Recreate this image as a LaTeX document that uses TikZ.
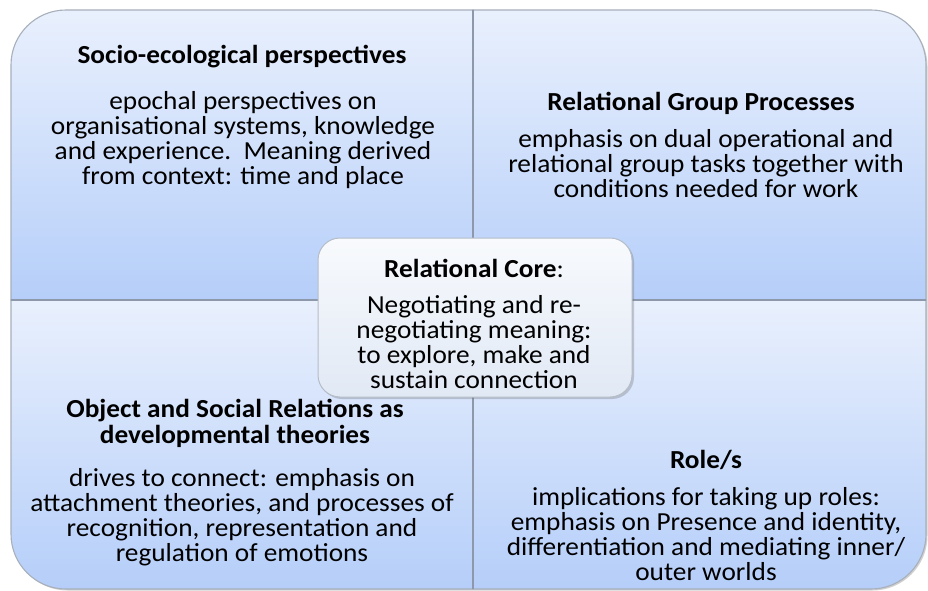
\documentclass[tikz,border=0pt]{standalone}
\usepackage{fontspec}
\setmainfont{Carlito}
\usetikzlibrary{shadows}
\definecolor{qtop}{HTML}{E9F0FD}
\definecolor{qbot}{HTML}{B5CEF9}
\definecolor{qline}{HTML}{8D99AA}
\definecolor{qouter}{HTML}{A8B0BB}
\definecolor{ctop}{HTML}{F8FAFD}
\definecolor{cbot}{HTML}{E1E9F5}
\definecolor{cline}{HTML}{B5BDC8}
\tikzset{
  quad/.style={draw=qouter, line width=1.1pt, top color=qtop, bottom color=qbot,
    drop shadow={shadow xshift=1.5pt, shadow yshift=-1.5pt, opacity=0.3, fill=black!60}},
  divider/.style={draw=qline, line width=1.8pt},
  txt/.style={align=center, inner sep=0pt, xscale=1.05, transform shape,
    font=\fontsize{26}{25}\selectfont, text=black},
  ttl/.style={txt, font=\fontsize{26}{26}\selectfont\bfseries},
}
\begin{document}
\begin{tikzpicture}[x=1pt,y=-1pt]
\useasboundingbox (0,0) rectangle (928,591);
\fill[white] (0,0) rectangle (928,591);
% quadrants
\path[quad] (11,300) -- (11,65) arc[start angle=180,end angle=270,radius=55] -- (473,10) -- (473,300) -- cycle;
\path[quad] (473,10) -- (871,10) arc[start angle=270,end angle=360,radius=55] -- (926,300) -- (473,300) -- cycle;
\path[quad] (11,300) -- (473,300) -- (473,589) -- (66,589) arc[start angle=90,end angle=180,radius=55] -- cycle;
\path[quad] (473,300) -- (926,300) -- (926,534) arc[start angle=0,end angle=90,radius=55] -- (473,589) -- cycle;
\coordinate (vtop) at (473,10);
\coordinate (vbot) at (473,589);
\coordinate (hl) at (11,300);
\coordinate (hr) at (926,300);
\draw[divider] (vtop) -- (vbot);
\draw[divider] (hl) -- (hr);
% centre box
\node[draw=cline, line width=1pt, rounded corners=22pt, top color=ctop, bottom color=cbot,
  minimum width=314pt, minimum height=159pt, inner sep=0pt,
  drop shadow={shadow xshift=2pt, shadow yshift=-2pt, opacity=0.3, fill=black!60}]
  (core) at (475,317.5) {};
% texts
\node[ttl] (t1) at (242,57) {Socio-ecological perspectives};
\node[txt] (b1) at (243,140.5) {epochal perspectives on\\organisational systems, knowledge\\and experience.\ \ Meaning derived\\from context: time and place};
\node[ttl] (t2) at (701,103) {Relational Group Processes};
\node[txt] (b2) at (706,164) {emphasis on dual operational and\\relational group tasks together with\\conditions needed for work};
\node[txt] (t5) at (474,268) {\textbf{Relational Core}:};
\node[txt] (b5) at (474,342) {Negotiating and re-\\negotiating meaning:\\to explore, make and\\sustain connection};
\node[ttl] (t3) at (235,423) {Object and Social Relations as\\developmental theories};
\node[txt] (b3) at (242,517.5) {drives to connect: emphasis on\\attachment theories, and processes of\\recognition, representation and\\regulation of emotions};
\node[ttl] (t4) at (706,460) {Role/s};
\node[txt] (b4) at (706,534.5) {implications for taking up roles:\\emphasis on Presence and identity,\\differentiation and mediating inner/\\outer worlds};
\end{tikzpicture}
\end{document}
